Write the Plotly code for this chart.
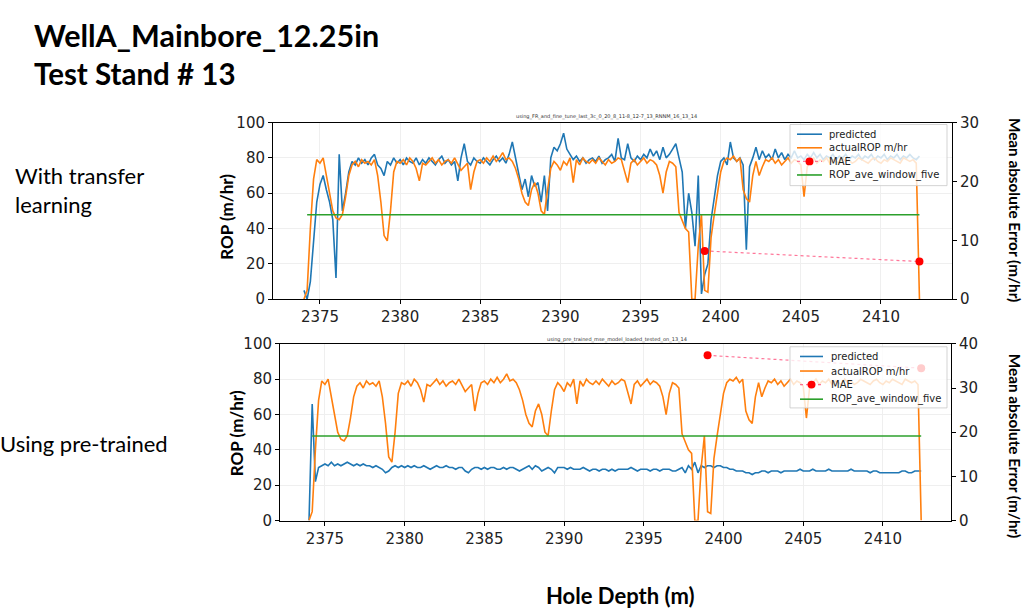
import numpy as np
import plotly.graph_objects as go

# ---------------- data ----------------
depth_start, depth_step = 2374.0, 0.2
actual_rop = [
    0, 5, 40, 68, 79,
    77, 80, 71, 60, 50,
    46, 45, 48, 58, 70,
    76, 78, 75, 79, 77,
    78, 76, 79, 70, 55,
    36, 33, 50, 72, 78,
    77, 79, 76, 80, 78,
    74, 67, 77, 76, 78,
    80, 77, 79, 76, 78,
    79, 77, 80, 76, 73,
    75, 77, 62, 72, 78,
    79, 77, 80, 78, 81,
    78, 80, 83, 79, 80,
    78, 74, 68, 60, 55,
    53, 62, 66, 60, 50,
    48, 62, 74, 78, 76,
    73, 78, 76, 80, 66,
    79, 76, 80, 78, 77,
    79, 77, 80, 78, 76,
    79, 77, 78, 80, 79,
    72, 66, 77, 79, 76,
    78, 80, 77, 79, 78,
    76, 70, 60, 72, 78,
    77, 75, 49, 45, 40,
    38, 0, 0, 30, 48,
    5, 4, 35, 48, 60,
    72, 78, 80, 79, 81,
    78, 80, 62, 57, 55,
    70, 78, 70, 75, 79,
    78, 80, 77, 79, 76,
    78, 80, 77, 79, 78,
    76, 58, 75, 78, 80,
    77, 79, 78, 80, 77,
    79, 78, 77, 80, 78,
    79, 77, 78, 80, 79,
    78, 77, 79, 80, 78,
    77, 79, 78, 80, 79,
    78, 77, 80, 79, 78,
    79, 77, 0,
]
pred_transfer = [
    5, 0, 10, 35, 55,
    65, 70, 62, 55, 45,
    12, 82, 50, 60, 72,
    78, 76, 80, 77, 79,
    76, 80, 82, 76, 74,
    70, 78, 76, 80, 77,
    79, 76, 80, 78, 77,
    80, 76, 79, 77, 80,
    78, 76, 79, 81, 77,
    79, 76, 78, 67, 80,
    88, 78, 76, 80, 78,
    77, 80, 78, 76, 79,
    81, 78, 80, 77, 82,
    89, 80, 70, 62, 68,
    58, 70, 64, 66, 55,
    70, 50, 80, 86, 84,
    88, 94, 85, 82, 79,
    81, 78, 80, 77, 79,
    80, 78, 81, 77, 79,
    80, 82, 78, 91, 80,
    79, 88, 80, 78, 81,
    79, 82, 80, 85, 81,
    84, 79, 86, 80, 82,
    85, 88, 80, 72, 40,
    60, 49, 30, 70, 3,
    14, 20, 45, 58, 70,
    78, 80, 76, 89, 80,
    78, 80, 76, 28, 75,
    80, 86, 79, 84, 80,
    82, 79, 85, 80, 83,
    79, 82, 80, 84, 80,
    81, 79, 82, 80, 83,
    80, 82, 79, 81, 80,
    82, 79, 81, 80, 82,
    79, 81, 80, 82, 79,
    81, 80, 82, 79, 81,
    80, 82, 79, 81, 80,
    82, 79, 81, 80, 82,
    80, 79, 81,
]
pred_pretrained = [
    0, 66, 22, 30, 31,
    32, 31, 33, 31, 32,
    31, 32, 33, 32, 31,
    32, 31, 32, 31, 31,
    30, 31, 30, 29, 27,
    28, 30, 31, 30, 31,
    30, 31, 30, 31, 30,
    30, 31, 30, 29, 30,
    31, 30, 30, 31, 30,
    30, 29, 30, 30, 28,
    27, 29, 30, 30, 29,
    30, 29, 30, 30, 29,
    29, 30, 29, 30, 30,
    29, 28, 29, 30, 31,
    29, 31, 30, 28, 29,
    30, 29, 27, 30, 30,
    30, 29, 30, 29, 29,
    29, 30, 29, 28, 29,
    29, 28, 29, 29, 28,
    29, 28, 29, 29, 29,
    29, 30, 29, 28, 29,
    29, 29, 28, 29, 29,
    28, 29, 29, 29, 28,
    28, 29, 30, 27, 31,
    29, 33, 27, 31, 30,
    31, 31, 30, 31, 31,
    30, 30, 29, 29, 28,
    28, 28, 27, 27, 26,
    27, 27, 28, 28, 27,
    28, 28, 28, 27, 28,
    28, 28, 28, 28, 29,
    28, 28, 28, 29, 28,
    28, 28, 28, 29, 28,
    28, 28, 28, 28, 28,
    29, 28, 28, 28, 28,
    28, 27, 28, 28, 27,
    27, 27, 27, 27, 27,
    27, 28, 28, 27, 27,
    28, 28, 28,
]
rop_ave_depth = [2374.2, 2412.4]
rop_ave_value = 47.8
mae_depth = [2399.0, 2412.4]
mae_transfer = [8.2, 6.4]
mae_pretrained = [37.4, 34.5]
x_ticks = [2375, 2380, 2385, 2390, 2395, 2400, 2405, 2410]
legend_names = ["predicted", "actualROP m/hr", "MAE", "ROP_ave_window_five"]

depth = depth_start + depth_step * np.arange(len(actual_rop))

BLUE, ORANGE, GREEN = "#1f77b4", "#ff7f0e", "#2ca02c"
MAE_LINE = "rgba(255,60,110,0.7)"
fig = go.Figure()


def add_panel(pred, mae, xa, ya, ya2):
    fig.add_trace(go.Scatter(x=depth, y=pred, mode="lines", name=legend_names[0],
                             line=dict(color=BLUE, width=1.6), xaxis=xa, yaxis=ya))
    fig.add_trace(go.Scatter(x=depth, y=actual_rop, mode="lines", name=legend_names[1],
                             line=dict(color=ORANGE, width=1.6), xaxis=xa, yaxis=ya))
    fig.add_trace(go.Scatter(x=rop_ave_depth, y=[rop_ave_value] * 2, mode="lines",
                             name=legend_names[3], line=dict(color=GREEN, width=1.6),
                             xaxis=xa, yaxis=ya))
    fig.add_trace(go.Scatter(x=mae_depth, y=mae, mode="lines+markers", name=legend_names[2],
                             line=dict(color=MAE_LINE, width=1.2, dash="dot"),
                             marker=dict(color="red", size=8),
                             xaxis=xa, yaxis=ya2))


add_panel(pred_transfer, mae_transfer, "x", "y", "y2")
add_panel(pred_pretrained, mae_pretrained, "x2", "y3", "y4")

tickfont = dict(family="DejaVu Sans", size=15, color="#222")
common_x = dict(showline=True, mirror=True, linecolor="black", linewidth=1,
                ticks="outside", ticklen=4, tickcolor="black", tickvals=x_ticks,
                showgrid=True, gridcolor="#efefef", zeroline=False, tickfont=tickfont)
common_y = dict(showline=True, linecolor="black", linewidth=1, ticks="outside",
                ticklen=4, tickcolor="black", zeroline=False, tickfont=tickfont)

W, H = 1023, 612

fig.update_layout(
    width=W, height=H, margin=dict(l=0, r=0, t=0, b=0),
    paper_bgcolor="white", plot_bgcolor="white", showlegend=False,
    xaxis=dict(domain=[273 / W, 952 / W], range=[2372.07, 2414.43], anchor="y", **common_x),
    yaxis=dict(domain=[1 - 299 / H, 1 - 117 / H], range=[0, 100], dtick=20, anchor="x",
               showgrid=True, gridcolor="#efefef", **common_y),
    yaxis2=dict(overlaying="y", side="right", anchor="x", range=[0, 30], dtick=10,
                showgrid=False, **common_y),
    xaxis2=dict(domain=[280 / W, 951 / W], range=[2372.18, 2414.27], anchor="y3", **common_x),
    yaxis3=dict(domain=[1 - 527 / H, 1 - 345 / H], range=[0, 100], dtick=20, anchor="x2",
                showgrid=True, gridcolor="#efefef", **common_y),
    yaxis4=dict(overlaying="y3", side="right", anchor="x2", range=[0, 40], dtick=10,
                showgrid=False, **common_y),
)


def px(x):
    return x / W


def py(y):
    return 1 - y / H


def txt(x, y, s, size, bold=False, angle=0, anchor="left", family="Lato", color="black"):
    fig.add_annotation(x=px(x), y=py(y), xref="paper", yref="paper", text=s,
                       showarrow=False, xanchor=anchor, yanchor="middle", textangle=angle,
                       borderpad=0,
                       font=dict(family=family, size=size, color=color,
                                 weight="bold" if bold else "normal"))


# matplotlib-style legends (box, samples and labels)
def legend_box(top, rows, sx0, sx1, tx):
    fig.add_shape(type="rect", xref="paper", yref="paper", layer="above",
                  x0=px(790), x1=px(947), y0=py(top), y1=py(top + 63),
                  fillcolor="rgba(255,255,255,0.8)", line=dict(color="rgba(200,200,200,0.8)", width=1))
    colors = [BLUE, ORANGE, MAE_LINE, GREEN]
    for name, col, ry in zip(legend_names, colors, rows):
        fig.add_shape(type="line", xref="paper", yref="paper", layer="above",
                      x0=px(sx0), x1=px(sx1), y0=py(ry), y1=py(ry),
                      line=dict(color=col, width=1.6 if name != "MAE" else 1.2,
                                dash="solid" if name != "MAE" else "dot"))
        if name == "MAE":
            cx = (sx0 + sx1) / 2
            fig.add_shape(type="circle", xref="paper", yref="paper", layer="above",
                          x0=px(cx - 4), x1=px(cx + 4), y0=py(ry + 4), y1=py(ry - 4),
                          fillcolor="red", line=dict(color="red", width=0))
        txt(tx, ry, name, 10, family="DejaVu Sans", color="#222")


legend_box(119, [129, 143, 157, 171], 797, 822, 828)
legend_box(348, [358, 373, 387, 402], 800, 823, 830)

txt(33, 27, "WellA_Mainbore_12.25in", 30.5, bold=True)
txt(33, 66, "Test Stand # 13", 29.5, bold=True)
txt(14, 172, "With transfer", 22)
txt(14, 201, "learning", 22)
txt(-1, 448, "Using pre-trained", 22)
txt(620, 604, "Hole Depth (m)", 22, bold=True, anchor="center")
txt(227, 214, "ROP (m/hr)", 17, bold=True, angle=-90, anchor="center")
txt(236, 437, "ROP (m/hr)", 17, bold=True, angle=-90, anchor="center")
txt(1015, 207, "Mean absolute Error (m/hr)", 15.3, bold=True, angle=90, anchor="center")
txt(1015, 450, "Mean absolute Error (m/hr)", 15.3, bold=True, angle=90, anchor="center")
txt(606, 111, "using_FR_and_fine_tune_last_3c_0_20_8_11-8_12-7_13_RNNM_16_13_14", 5,
    anchor="center", family="DejaVu Sans", color="#333")
txt(617, 340, "using_pre_trained_mse_model_loaded_tested_on_13_14", 5,
    anchor="center", family="DejaVu Sans", color="#333")

fig.write_html("out.html", config={"displayModeBar": False},
               post_script="document.body.style.margin='0px';")
